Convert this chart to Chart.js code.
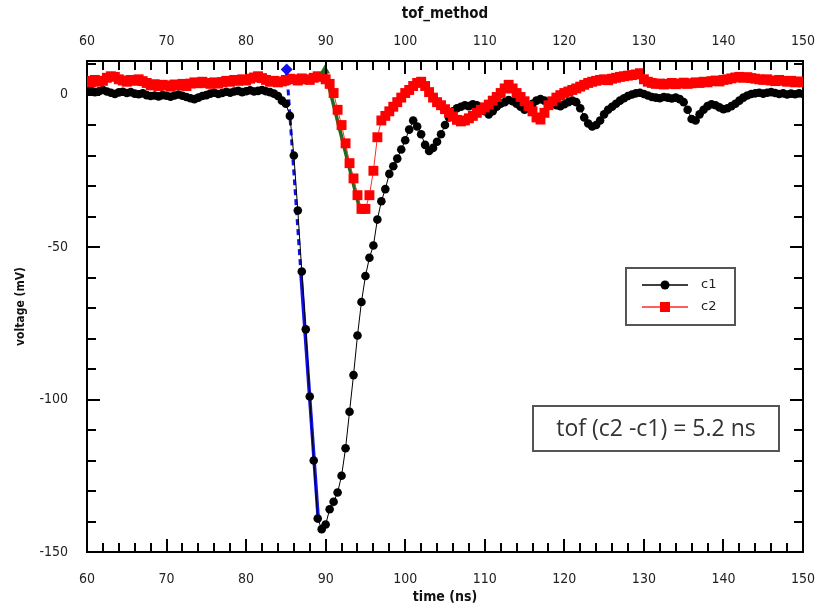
<!DOCTYPE html>
<html>
<head>
<meta charset="utf-8">
<script src="https://cdn.jsdelivr.net/npm/chart.js@4"></script>
<style>
  html, body { margin: 0; padding: 0; background: #fff; }
  canvas { display: block; }
</style>
</head>
<body>
<canvas id="tof" width="822" height="611"></canvas>
<script>
// sampling of the two scope channels
const t0 = 60;
const dt = 0.5;

// channel c1 (black), mV, one value every 0.5 ns from 60 ns
const c1 = [
  1.0, 1.3, 0.8, 1.1, 1.5, 1.0, 0.6, 0.2, 0.7, 0.9,
  0.5, 0.8, 0.3, 0.1, 0.4, -0.2, -0.5, -0.3, -0.6, -0.2,
  -0.4, -0.7, -0.3, 0.0, -0.4, -0.8, -1.2, -1.5, -1.0, -0.5,
  -0.2, 0.3, 0.6, 0.2, 0.5, 0.9, 0.6, 1.0, 1.2, 0.8,
  1.1, 1.4, 1.0, 1.2, 1.5, 1.1, 0.8, 0.3, -0.5, -2.0,
  -3.0, -7.0, -20, -38, -58, -77, -99, -120, -139, -142.5,
  -141, -136, -133.5, -130.5, -125, -116, -104, -92, -79, -68,
  -59.5, -53.5, -49.5, -41, -35, -31, -26, -23.5, -21, -18,
  -15, -11.5, -8.5, -10.5, -13, -16.5, -18.5, -17.5, -15.5, -13,
  -10, -7.5, -5.5, -4.5, -4.0, -3.5, -3.8, -3.2, -3.5, -4.5,
  -5.5, -6.5, -5.5, -4.0, -3.0, -2.5, -1.8, -2.2, -3.0, -4.0,
  -5.0, -4.5, -3.0, -2.0, -1.5, -2.0, -2.5, -3.0, -3.5, -3.8,
  -3.2, -2.5, -2.0, -2.5, -4.5, -7.5, -9.5, -10.5, -10.0, -8.5,
  -6.5, -5.0, -4.0, -3.0, -2.0, -1.2, -0.5, 0.0, 0.4, 0.6,
  0.2, -0.3, -0.8, -1.0, -1.2, -0.8, -1.0, -1.3, -1.0, -1.5,
  -2.5, -5.0, -8.0, -8.5, -6.5, -5.0, -3.8, -3.2, -3.5, -4.2,
  -4.8, -4.5, -3.8, -3.0, -2.0, -1.0, -0.3, 0.2, 0.4, 0.6,
  0.3, 0.6, 0.8, 0.5, 0.2, 0.4, 0.0, 0.3, 0.1, 0.4,
  0.2
];

// channel c2 (red)
const c2 = [
  4.5, 4.0, 4.8, 4.2, 4.5, 5.5, 6.0, 5.8, 5.0, 4.6,
  4.2, 4.8, 4.5, 5.0, 4.4, 3.8, 3.0, 3.4, 2.8, 3.2,
  3.0, 2.6, 3.3, 3.0, 3.5, 2.8, 3.6, 4.0, 3.7, 4.2,
  3.8, 3.5, 4.0, 3.6, 4.1, 4.5, 4.2, 4.8, 4.5, 5.0,
  4.6, 5.2, 5.6, 6.0, 5.4, 4.8, 4.2, 4.5, 4.0, 4.3,
  4.8, 5.2, 5.0, 4.6, 5.3, 5.0, 4.8, 5.5, 6.0, 5.8,
  5.0, 3.5, 0.5, -5.0, -10, -16, -22.5, -27.5, -33, -37.5,
  -37.5, -33, -25, -14, -8.5, -7, -5.5, -4, -2.5, -1,
  0.5, 1.5, 2.8, 3.8, 4.2, 2.8, 0.8, -1.0, -2.5, -3.5,
  -4.8, -6.0, -7.2, -8.3, -8.8, -8.5, -7.8, -7.0, -6.0, -5.0,
  -4.2, -3.3, -2.0, -0.8, 0.5, 2.0, 3.2, 2.0, 0.5, -0.8,
  -2.2, -3.8, -5.5, -7.5, -8.2, -6.0, -3.5, -2.2, -1.0, -0.2,
  0.5, 1.0, 1.5, 2.0, 2.6, 3.2, 3.8, 4.2, 4.5, 4.8,
  5.0, 4.7, 5.2, 5.5, 5.8, 6.0, 6.2, 6.4, 6.6, 7.0,
  5.0, 4.2, 3.8, 3.5, 3.6, 3.3, 3.5, 3.8, 3.4, 3.6,
  3.9, 3.5, 3.7, 4.0, 3.8, 4.2, 4.0, 4.4, 4.6, 4.3,
  4.8, 5.0, 5.3, 5.6, 5.8, 5.5, 5.7, 5.4, 5.2, 5.0,
  4.8, 5.0, 4.6, 4.4, 4.8, 4.5, 4.2, 4.5, 4.0, 4.3,
  4.0
];

// leading-edge fits (time ns, voltage mV)
const fit1T = [85.1, 86.9, 89.1];
const fit1V = [8.2, -59, -140.4];
const fit2T = [89.9, 94.3];
const fit2V = [7.9, -37.7];

const xTicks = [60, 70, 80, 90, 100, 110, 120, 130, 140, 150];
const yTicks = [0, -50, -100, -150];
const xMinorStep = 2;
const yMinorStep = 10;
const tofText = 'tof (c2 -c1) = 5.2 ns';

const toPts = (ts, vs) => vs.map((v, i) => ({ x: ts[i], y: v }));
const series = vals => vals.map((v, i) => ({ x: t0 + i * dt, y: v }));

const labelFont = { family: "'DejaVu Sans Condensed', 'DejaVu Sans', sans-serif", size: 14 };
const titleFont = { family: "'DejaVu Sans Condensed', 'DejaVu Sans', sans-serif", size: 14, weight: 'bold' };

function fixTicks(list) {
  return scale => { scale.ticks = list.map(v => ({ value: v })); };
}

// pin axis thickness and drop the label overflow padding
function fixSize(key, px) {
  return scale => {
    scale[key] = px;
    scale.paddingLeft = scale.paddingRight = 0;
    scale.paddingTop = scale.paddingBottom = 0;
  };
}

// inward tick marks on all four sides of the frame
const frameTicks = {
  id: 'frameTicks',
  afterDatasetsDraw(chart) {
    const { ctx, chartArea: a, scales: { x, y } } = chart;
    ctx.save();
    ctx.strokeStyle = '#000';
    ctx.lineWidth = 2;
    ctx.beginPath();
    for (let v = x.min; v <= x.max; v += xMinorStep) {
      const px = Math.round(x.getPixelForValue(v));
      const len = xTicks.includes(v) ? 13 : 9;
      ctx.moveTo(px, a.bottom); ctx.lineTo(px, a.bottom - len);
      ctx.moveTo(px, a.top); ctx.lineTo(px, a.top + len);
    }
    for (let v = -150; v <= y.max; v += yMinorStep) {
      const py = Math.round(y.getPixelForValue(v));
      const len = yTicks.includes(v) ? 13 : 9;
      ctx.moveTo(a.left, py); ctx.lineTo(a.left + len, py);
      ctx.moveTo(a.right, py); ctx.lineTo(a.right - len, py);
    }
    ctx.stroke();
    ctx.restore();
  }
};

// boxed legend and tof result inside the plot
const boxes = {
  id: 'boxes',
  afterDraw(chart) {
    const { ctx, chartArea: a } = chart;
    ctx.save();
    // legend
    const lx = a.left + 539, ly = a.top + 207, lw = 109, lh = 57;
    ctx.fillStyle = '#fff';
    ctx.fillRect(lx, ly, lw, lh);
    ctx.strokeStyle = '#555';
    ctx.lineWidth = 2;
    ctx.strokeRect(lx, ly, lw, lh);
    const entries = chart.data.datasets
      .filter(d => d.label === 'c1' || d.label === 'c2')
      .sort((p, q) => p.label.localeCompare(q.label));
    entries.forEach((d, i) => {
      const cy = ly + 17 + i * 22;
      ctx.strokeStyle = d.borderColor;
      ctx.lineWidth = 1.5;
      ctx.beginPath();
      ctx.moveTo(lx + 16, cy); ctx.lineTo(lx + 62, cy);
      ctx.stroke();
      ctx.fillStyle = d.pointBackgroundColor;
      if (d.pointStyle === 'rect') {
        ctx.fillRect(lx + 39 - 5, cy - 5, 10, 10);
      } else {
        ctx.beginPath();
        ctx.arc(lx + 39, cy, 4.5, 0, Math.PI * 2);
        ctx.fill();
      }
      ctx.fillStyle = '#222';
      ctx.font = "13px 'DejaVu Sans', sans-serif";
      ctx.textBaseline = 'middle';
      ctx.fillText(d.label, lx + 75, cy);
    });
    // tof result
    const bx = a.left + 446, by = a.top + 345, bw = 246, bh = 45;
    ctx.fillStyle = '#fff';
    ctx.fillRect(bx, by, bw, bh);
    ctx.strokeStyle = '#555';
    ctx.lineWidth = 2;
    ctx.strokeRect(bx, by, bw, bh);
    ctx.fillStyle = '#333';
    ctx.font = "23px 'Open Sans', sans-serif";
    ctx.textAlign = 'center';
    ctx.textBaseline = 'middle';
    ctx.fillText(tofText, bx + bw / 2, by + bh / 2 + 1);
    ctx.restore();
  }
};

new Chart(document.getElementById('tof'), {
  type: 'line',
  data: {
    datasets: [
      {
        label: 'fit1 start', data: toPts(fit1T, fit1V).slice(0, 1),
        showLine: false, pointStyle: 'rectRot', pointRadius: 6,
        pointBackgroundColor: '#1010e8', pointBorderWidth: 0, order: 0
      },
      {
        label: 'fit2 start', data: toPts(fit2T, fit2V).slice(0, 1),
        showLine: false, pointStyle: 'triangle', pointRadius: 6,
        pointBackgroundColor: '#1e6b1e', pointBorderWidth: 0, order: 0
      },
      {
        label: 'c2', data: series(c2),
        borderColor: '#ff2a2a', borderWidth: 1, pointStyle: 'rect', pointRadius: 7,
        pointBackgroundColor: '#ff0000', pointBorderWidth: 0, order: 1
      },
      {
        label: 'c1', data: series(c1),
        borderColor: '#000000', borderWidth: 1, pointStyle: 'circle', pointRadius: 4.3,
        pointBackgroundColor: '#000000', pointBorderWidth: 0, order: 2
      },
      {
        label: 'fit1 ext', data: toPts(fit1T, fit1V).slice(0, 2),
        borderColor: '#1010e8', borderWidth: 3, borderDash: [6, 4], pointRadius: 0, order: 3
      },
      {
        label: 'fit1', data: toPts(fit1T, fit1V).slice(1),
        borderColor: '#1010e8', borderWidth: 3.5, pointRadius: 0, order: 3
      },
      {
        label: 'fit2', data: toPts(fit2T, fit2V),
        borderColor: '#1e6b1e', borderWidth: 3.5, pointRadius: 0, order: 3
      }
    ]
  },
  options: {
    responsive: false,
    devicePixelRatio: 1,
    animation: false,
    layout: { padding: 0 },
    plugins: { legend: { display: false }, tooltip: { enabled: false } },
    scales: {
      x: {
        type: 'linear', position: 'bottom', min: 60, max: 150,
        afterBuildTicks: fixTicks(xTicks),
        afterFit: fixSize('height', 59),
        grid: { display: false },
        border: { display: true, color: '#000', width: 2 },
        ticks: { color: '#222', font: labelFont, padding: 11, maxRotation: 0 },
        title: { display: true, text: 'time (ns)', color: '#111', font: titleFont, padding: { top: 0, bottom: 5 } }
      },
      x2: {
        type: 'linear', position: 'top', min: 60, max: 150,
        afterBuildTicks: fixTicks(xTicks),
        afterFit: fixSize('height', 61),
        grid: { display: false },
        border: { display: true, color: '#000', width: 2 },
        ticks: { color: '#222', font: labelFont, padding: 3, maxRotation: 0 },
        title: { display: true, text: 'tof_method', color: '#111', font: { ...titleFont, size: 15 }, padding: { top: 5, bottom: 0 } }
      },
      y: {
        type: 'linear', position: 'left', min: -150, max: 11,
        afterBuildTicks: fixTicks(yTicks),
        afterFit: fixSize('width', 87),
        grid: { display: false },
        border: { display: true, color: '#000', width: 2 },
        ticks: { color: '#222', font: labelFont, padding: 11 },
        title: { display: true, text: 'voltage (mV)', color: '#111', font: { ...titleFont, size: 12 }, padding: { top: 14, bottom: 0 } }
      },
      y2: {
        type: 'linear', position: 'right', min: -150, max: 11,
        afterBuildTicks: fixTicks(yTicks),
        afterFit: fixSize('width', 19),
        grid: { display: false },
        border: { display: true, color: '#000', width: 2 },
        ticks: { display: false }
      }
    }
  },
  plugins: [frameTicks, boxes]
});
</script>
</body>
</html>
